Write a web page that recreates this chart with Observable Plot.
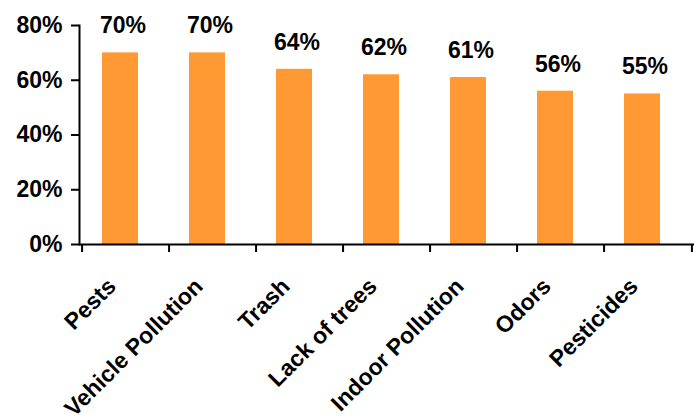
<!DOCTYPE html>
<html>
<head>
<meta charset="utf-8">
<script src="https://cdn.jsdelivr.net/npm/d3@7"></script>
<script src="https://cdn.jsdelivr.net/npm/@observablehq/plot@0.6"></script>
<style>
  html, body { margin: 0; padding: 0; background: #fff; }
  #chart svg { display: block; }
</style>
</head>
<body>
<div id="chart"></div>
<script>
const categories = ["Pests", "Vehicle Pollution", "Trash", "Lack of trees", "Indoor Pollution", "Odors", "Pesticides"];
const values = [0.70, 0.70, 0.64, 0.62, 0.61, 0.56, 0.55];
const yTicks = [0, 0.2, 0.4, 0.6, 0.8];

const data = categories.map((c, i) => ({category: c, value: values[i]}));

const W = 696, H = 420;
const mL = 79, mR = 2, mT = 25, mB = 176;
const band = (W - mL - mR) / categories.length;
const font = "'Liberation Sans', Arial, Helvetica, sans-serif";

const chart = Plot.plot({
  width: W,
  height: H,
  marginLeft: mL,
  marginRight: mR,
  marginTop: mT,
  marginBottom: mB,
  style: {fontFamily: font, fontSize: "23px", fontWeight: "bold", color: "#000", background: "#fff"},
  x: {domain: categories, padding: 0},
  y: {domain: [0, 0.8], ticks: yTicks},
  marks: [
    Plot.barY(data, {x: "category", y: "value", fill: "#FF9933", insetLeft: 20, insetRight: 31}),
    Plot.text(data, {x: "category", y: "value", text: d => d3.format(".0%")(d.value), dx: -3, dy: -27, fontSize: 23, fontWeight: "bold", fill: "#000"}),
    Plot.axisY({ticks: yTicks, tickFormat: d3.format(".0%"), tickSize: 8, tickPadding: 9, label: null, fontSize: 23, fontWeight: "bold", strokeWidth: 2}),
    Plot.frame({anchor: "left", strokeWidth: 2}),
    Plot.ruleY([0], {strokeWidth: 2}),
    Plot.axisX({tickSize: 8, text: null, dx: -band / 2, label: null, strokeWidth: 2}),
    Plot.axisX({ticks: [categories[categories.length - 1]], tickSize: 8, text: null, dx: band / 2, label: null, strokeWidth: 2}),
    Plot.axisX({tickSize: 0, tickRotate: -45, tickPadding: 26, label: null, fontSize: 23, fontWeight: "bold", dx: -14, dy: 12})
  ]
});
document.getElementById("chart").appendChild(chart);
</script>
</body>
</html>
